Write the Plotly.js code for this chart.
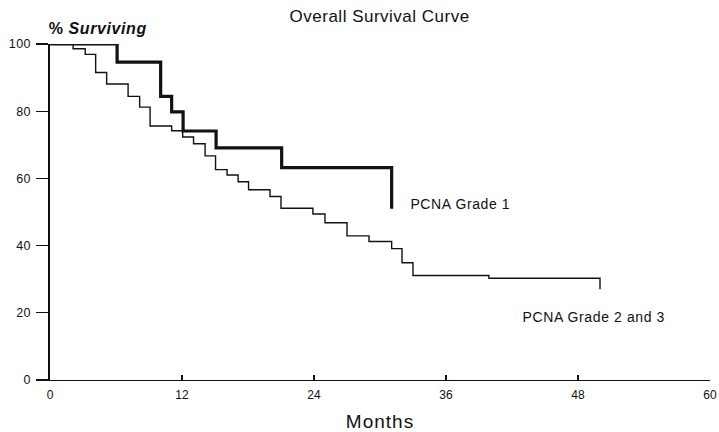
<!DOCTYPE html>
<html>
<head>
<meta charset="utf-8">
<script src="https://cdn.plot.ly/plotly-3.0.1.min.js"></script>
<style>
html,body{margin:0;padding:0;background:#fff;}
#chart{width:719px;height:432px;}
#chart .gtitle{letter-spacing:0.5px;}
#chart .xtitle{letter-spacing:1px;}
#chart .annotation-text{letter-spacing:0.6px;}
#chart .ytick text{letter-spacing:0.4px;}
</style>
</head>
<body>
<div id="chart"></div>
<script>
// Grade 1 (thick): event times (months) and % surviving after each step
const grade1Months = [0, 6.1, 10.06, 11.06, 12.1, 15.1, 21.06, 31.06];
const grade1Surv   = [100, 94.6, 84.4, 79.8, 74.1, 69.1, 63.2, 51.0];

// Grade 2 and 3 (thin)
const grade23Months = [0, 2.1, 3.2, 4.15, 5.15, 7.1, 8.15, 9.1, 11.06, 12.06, 13.05, 14.1, 15.05, 16.1, 17.1, 18.05, 20.0, 21.0, 23.9, 25.0, 27.0, 29.0, 31.06, 32.0, 33.0, 39.9, 50.0];
const grade23Surv   = [100, 98.6, 96.9, 91.5, 88.1, 84.4, 81.2, 75.6, 74.2, 72.3, 70.3, 66.7, 62.6, 61.0, 59.0, 56.6, 54.6, 51.1, 49.4, 46.8, 42.9, 41.2, 39.1, 34.9, 31.1, 30.3, 27.0];

const xTicks = [0, 12, 24, 36, 48, 60];
const yTicks = [0, 20, 40, 60, 80, 100];
const seriesLabels = ["PCNA Grade 1", "PCNA Grade 2 and 3"];

const font = {family: "Liberation Sans, Arial, sans-serif", color: "#111"};

const traces = [
  {x: grade23Months, y: grade23Surv, type: "scatter", mode: "lines",
   line: {shape: "hv", color: "#111", width: 1.4}, name: seriesLabels[1], hoverinfo: "skip"},
  {x: grade1Months, y: grade1Surv, type: "scatter", mode: "lines",
   line: {shape: "hv", color: "#111", width: 3.2}, name: seriesLabels[0], hoverinfo: "skip"}
];

const layout = {
  width: 719, height: 432,
  margin: {l: 50, r: 9, t: 44, b: 52, pad: 0},
  paper_bgcolor: "#fff", plot_bgcolor: "#fff",
  showlegend: false,
  font: font,
  title: {text: "Overall Survival Curve", x: 0.528, xanchor: "center", y: 0.962, yanchor: "middle",
          font: {family: font.family, size: 17, color: "#111"}},
  xaxis: {
    range: [0, 60], tickvals: xTicks, ticktext: xTicks.map(String),
    ticks: "inside", ticklen: 5, tickwidth: 1.2, tickcolor: "#111",
    showline: true, linecolor: "#111", linewidth: 1.4, showgrid: false, zeroline: false,
    ticklabelstandoff: 3,
    tickfont: {family: font.family, size: 12, color: "#111"},
    title: {text: "Months", font: {family: font.family, size: 19, color: "#111"}, standoff: 14}
  },
  yaxis: {
    range: [0, 100], tickvals: yTicks, ticktext: yTicks.map(String),
    ticks: "outside", ticklen: 12, tickwidth: 1.2, tickcolor: "#111",
    showline: true, linecolor: "#111", linewidth: 1.6, showgrid: false, zeroline: false,
    ticklabelstandoff: 3,
    tickfont: {family: font.family, size: 12.5, color: "#111"}
  },
  annotations: [
    {xref: "paper", yref: "paper", x: 0.0, y: 1.0, xanchor: "left", yanchor: "bottom", yshift: 5,
     text: "<b>% <i>Surviving</i></b>", showarrow: false,
     font: {family: font.family, size: 16, color: "#111"}},
    {xref: "x", yref: "y", x: 32.9, y: 52.5, xanchor: "left", yanchor: "middle",
     text: seriesLabels[0], showarrow: false, font: {family: font.family, size: 14, color: "#111"}},
    {xref: "x", yref: "y", x: 43.25, y: 18.8, xanchor: "left", yanchor: "middle",
     text: seriesLabels[1], showarrow: false, font: {family: font.family, size: 14, color: "#111"}}
  ]
};

Plotly.newPlot("chart", traces, layout, {displayModeBar: false, staticPlot: true});
</script>
</body>
</html>
